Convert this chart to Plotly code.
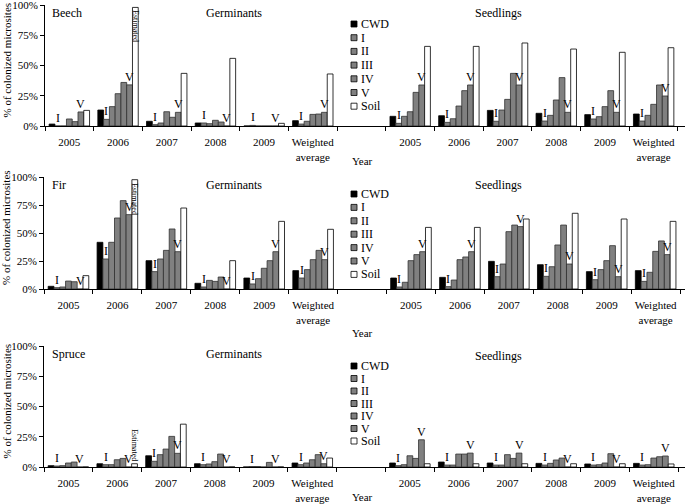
import plotly.graph_objects as go

# ---------------- data ----------------
categories = ["2005", "2006", "2007", "2008", "2009", "Weighted<br>average"]
series = ["CWD", "I", "II", "III", "IV", "V", "Soil"]
y_ticks = [0, 25, 50, 75, 100]
y_ticktext = ["0%", "25%", "50%", "75%", "100%"]

beech_germinants = {
    "CWD": [1.6, 13.2, 3.9, 2.5, 0.0, 4.4],
    "I": [0.0, 5.5, 1.1, 2.5, 0.5, 1.6],
    "II": [0.0, 16.0, 2.5, 1.9, 0.0, 3.9],
    "III": [5.8, 26.7, 11.8, 4.7, 0.0, 9.6],
    "IV": [3.6, 36.0, 7.2, 3.3, 0.0, 9.9],
    "V": [11.6, 34.0, 11.3, 0.0, 0.0, 11.3],
    "Soil": [12.9, 98.0, 43.5, 55.9, 2.2, 43.0],
}
beech_seedlings = {
    "CWD": [8.0, 8.5, 12.9, 10.5, 9.4, 9.9],
    "I": [2.2, 3.0, 3.9, 4.1, 5.8, 4.1],
    "II": [8.0, 6.0, 13.2, 8.8, 7.7, 8.8],
    "III": [11.8, 16.5, 22.0, 21.5, 16.0, 17.9],
    "IV": [27.8, 29.2, 43.5, 40.0, 29.2, 33.9],
    "V": [33.9, 33.9, 33.9, 11.3, 11.3, 24.8],
    "Soil": [65.8, 65.8, 68.6, 63.6, 60.9, 64.7],
}
fir_germinants = {
    "CWD": [2.4, 41.7, 25.3, 5.1, 9.8, 16.4],
    "I": [1.2, 26.8, 15.5, 1.8, 4.5, 9.8],
    "II": [1.8, 41.7, 26.8, 7.7, 9.2, 17.3],
    "III": [7.1, 63.4, 34.5, 6.8, 18.5, 26.2],
    "IV": [6.5, 78.9, 53.6, 10.7, 25.3, 34.5],
    "V": [0.0, 66.4, 33.3, 0.0, 33.3, 26.2],
    "Soil": [11.9, 97.6, 72.3, 25.3, 60.4, 53.3],
}
fir_seedlings = {
    "CWD": [9.8, 10.4, 24.7, 21.7, 15.5, 16.4],
    "I": [1.8, 2.1, 11.0, 11.3, 8.3, 6.8],
    "II": [6.0, 8.0, 22.3, 19.9, 17.3, 14.9],
    "III": [25.3, 26.2, 51.2, 39.3, 25.3, 33.6],
    "IV": [30.7, 28.6, 57.1, 57.1, 38.7, 42.9],
    "V": [33.3, 33.3, 55.7, 22.3, 11.0, 30.7],
    "Soil": [55.0, 55.0, 62.5, 67.6, 62.5, 60.4],
}
spruce_germinants = {
    "CWD": [1.1, 2.7, 9.3, 2.7, 0.0, 3.3],
    "I": [0.8, 1.9, 4.7, 1.9, 0.4, 1.9],
    "II": [1.1, 1.9, 10.2, 2.5, 0.4, 3.3],
    "III": [3.3, 6.0, 14.8, 4.4, 0.0, 6.0],
    "IV": [4.1, 7.1, 25.3, 10.7, 3.8, 10.2],
    "V": [0.0, 0.0, 11.3, 0.0, 0.0, 2.7],
    "Soil": [0.0, 2.7, 35.4, 0.0, 0.0, 7.4],
}
spruce_seedlings = {
    "CWD": [3.3, 4.1, 3.3, 3.0, 2.5, 3.0],
    "I": [1.1, 1.6, 1.6, 1.6, 1.6, 1.6],
    "II": [1.9, 1.6, 1.6, 3.0, 1.9, 1.9],
    "III": [9.3, 10.7, 10.2, 5.8, 3.3, 7.4],
    "IV": [7.1, 10.7, 7.1, 7.4, 11.0, 8.5],
    "V": [22.5, 11.5, 11.5, 0.0, 0.0, 9.1],
    "Soil": [2.7, 2.7, 2.7, 2.7, 2.7, 2.5],
}

# ---------------- styling ----------------
W, H = 685, 504
FONT = "Liberation Serif"
fill = {"CWD": "#000000", "I": "#808080", "II": "#808080", "III": "#808080",
        "IV": "#808080", "V": "#808080", "Soil": "#ffffff"}
edge = {"CWD": "#000000", "I": "#303030", "II": "#303030", "III": "#303030",
        "IV": "#303030", "V": "#303030", "Soil": "#000000"}
BARGAP = 0.17

panels = [
    # name, germ, seed, top px, bottom px, left px, range end, estimated inside?, legend start, legend step, year y
    ("Beech", beech_germinants, beech_seedlings, 5, 126, 45, 12.644, True, 24, 13.7, 161),
    ("Fir", fir_germinants, fir_seedlings, 177, 289, 44, 12.60, True, 194, 13.4, 333),
    ("Spruce", spruce_germinants, spruce_seedlings, 346, 467, 44, 12.64, False, 366, 12.5, 497),
]

def py(p):
    return 1 - p / H

def px(p):
    return p / W

germ_x = list(range(6))
seed_x = list(range(7, 13))
all_x = germ_x + [6] + seed_x
tick_text = categories + [""] + categories
boundaries = [i - 0.5 for i in range(14)]
bw = (1 - BARGAP) / len(series)

def offset(k):
    return -(1 - BARGAP) / 2 + (k + 0.5) * bw

fig = go.Figure()
annotations = []
shapes = []

for pi, (name, germ, seed, top, bot, left, rend, est_inside, lg0, lgstep, year_y) in enumerate(panels):
    sfx = "" if pi == 0 else str(pi + 1)
    xa, ya = "x" + sfx, "y" + sfx
    for s in series:
        fig.add_trace(go.Bar(
            x=germ_x + seed_x, y=germ[s] + seed[s], name=s,
            xaxis=xa, yaxis=ya, showlegend=False, hoverinfo="skip",
            marker=dict(color=fill[s], line=dict(color=edge[s], width=0.8)),
        ))
    fig.layout["xaxis" + sfx] = dict(
        domain=[px(left), 1], range=[-0.5, rend], anchor=ya, automargin=False,
        tickmode="array", tickvals=all_x, ticktext=tick_text, ticks="",
        showline=True, linecolor="black", linewidth=1, showgrid=False, zeroline=False,
        tickfont=dict(family=FONT, size=11, color="black"), ticklabelstandoff=6,
        ticklabeloverflow="allow",
        minor=dict(tickmode="array", tickvals=boundaries, ticks="outside",
                   ticklen=4, tickcolor="black", showgrid=False),
    )
    fig.layout["yaxis" + sfx] = dict(
        domain=[py(bot), py(top)], range=[0, 100], anchor=xa, automargin=False,
        tickmode="array", tickvals=y_ticks, ticktext=y_ticktext,
        ticks="outside", ticklen=4, tickcolor="black", ticklabeloverflow="allow",
        showline=True, linecolor="black", linewidth=1, showgrid=False, zeroline=False,
        tickfont=dict(family=FONT, size=11, color="black"),
    )
    # I / V data labels above the bars
    for stage_x, data in ((germ_x, germ), (seed_x, seed)):
        for lab, k in (("I", 1), ("V", 5)):
            for xi, v in zip(stage_x, data[lab]):
                annotations.append(dict(
                    x=xi + offset(k), y=v, xref=xa, yref=ya, text=lab, showarrow=False,
                    yanchor="bottom", xanchor="center", yshift=-1,
                    font=dict(family=FONT, size=12, color="black"),
                ))
    # "Estimated" marker on 2006 germinant soil bar
    soil06 = germ["Soil"][1]
    annotations.append(dict(
        x=1 + offset(6), y=soil06, xref=xa, yref=ya, text="Estimated", showarrow=False,
        textangle=90, yanchor="top" if est_inside else "bottom", xanchor="center",
        yshift=-1 if est_inside else 1,
        font=dict(family=FONT, size=8, color="black"),
    ))
    # panel titles
    tcy = top + 8
    annotations.append(dict(x=px(50), y=py(tcy), xref="paper", yref="paper", text=name,
                            showarrow=False, xanchor="left", yanchor="middle",
                            font=dict(family=FONT, size=12, color="black")))
    annotations.append(dict(x=px(234), y=py(tcy), xref="paper", yref="paper", text="Germinants",
                            showarrow=False, xanchor="center", yanchor="middle",
                            font=dict(family=FONT, size=12, color="black")))
    annotations.append(dict(x=px(498), y=py(tcy + (2 if pi == 2 else 0)), xref="paper", yref="paper",
                            text="Seedlings", showarrow=False, xanchor="center", yanchor="middle",
                            font=dict(family=FONT, size=12, color="black")))
    # y title
    annotations.append(dict(x=px(6), y=py((top + bot) / 2 - 5), xref="paper", yref="paper",
                            text="% of colonized microsites", showarrow=False, textangle=-90,
                            xanchor="center", yanchor="middle",
                            font=dict(family=FONT, size=11, color="black")))
    # x title
    annotations.append(dict(x=px(362), y=py(year_y), xref="paper", yref="paper", text="Year",
                            showarrow=False, xanchor="center", yanchor="middle",
                            font=dict(family=FONT, size=11, color="black")))
    # legend
    for i, s in enumerate(series):
        cy = lg0 + i * lgstep
        shapes.append(dict(type="rect", xref="paper", yref="paper",
                           x0=px(351), x1=px(357), y0=py(cy + 3), y1=py(cy - 3),
                           fillcolor=fill[s], line=dict(color="black", width=0.8)))
        annotations.append(dict(x=px(358.5), y=py(cy), xref="paper", yref="paper", text=s,
                                showarrow=False, xanchor="left", yanchor="middle",
                                font=dict(family=FONT, size=12, color="black")))

fig.update_layout(
    width=W, height=H, margin=dict(l=0, r=0, t=0, b=0),
    paper_bgcolor="white", plot_bgcolor="white",
    barmode="group", bargap=BARGAP, bargroupgap=0,
    annotations=annotations, shapes=shapes, showlegend=False,
    font=dict(family=FONT, color="black"),
)
fig.write_html("out.html", config={"displayModeBar": False},
               post_script="document.body.style.margin='0px';")
